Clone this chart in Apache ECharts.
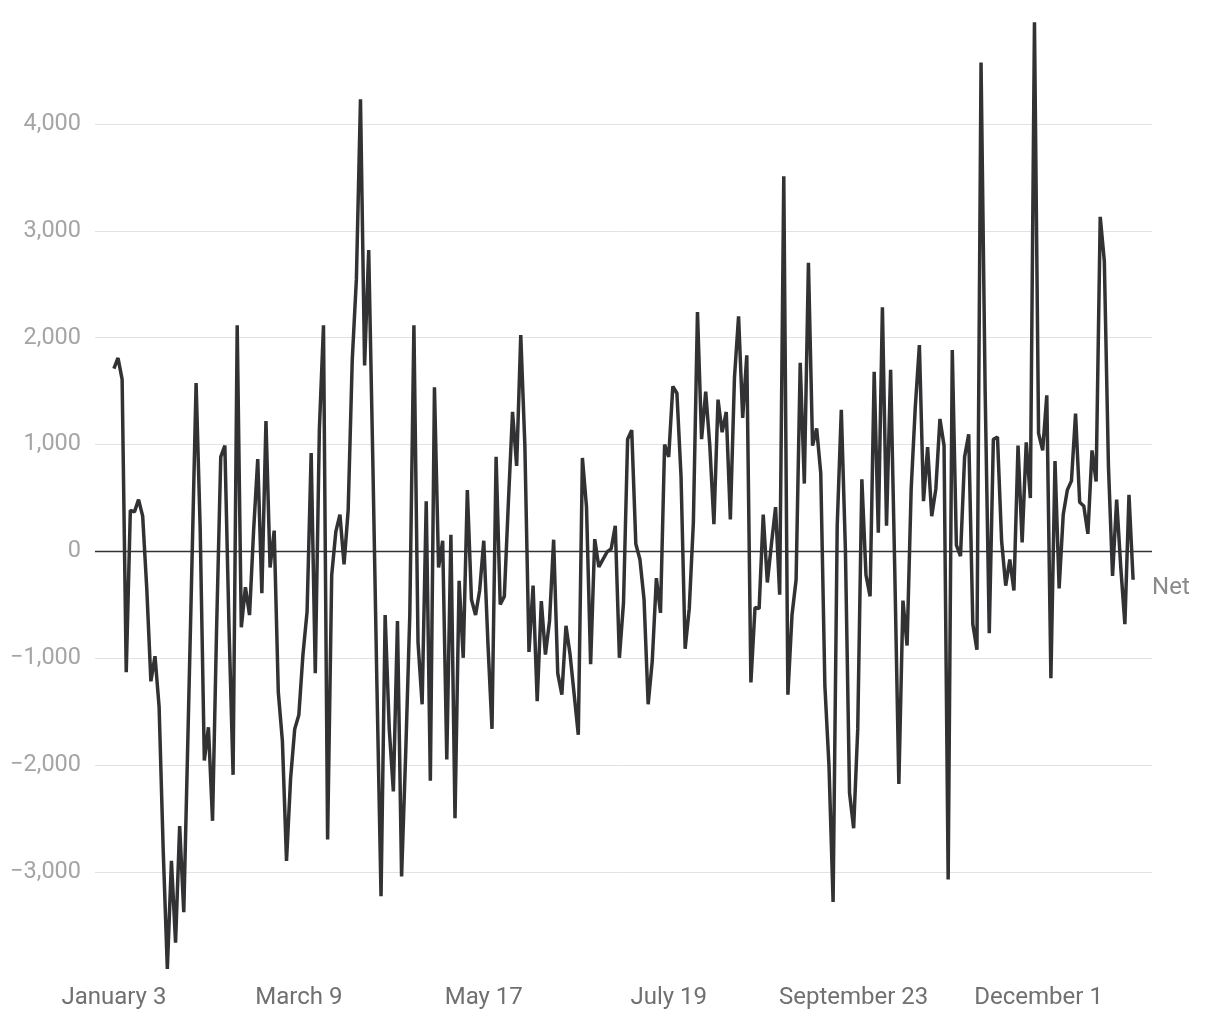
<!DOCTYPE html>
<html>
<head>
<meta charset="utf-8">
<script src="https://cdn.jsdelivr.net/npm/echarts@6/dist/echarts.min.js"></script>
<style>
  html, body { margin: 0; padding: 0; background: #ffffff; }
  #chart { width: 1220px; height: 1020px; }
</style>
</head>
<body>
<div id="chart"></div>
<script>
// Daily net values (one per observation, in order)
const netValues = [
  1710, 1810, 1610, -1130, 385, 370, 485, 330, -350, -1215,
  -980, -1455, -2800, -3905, -2895, -3660, -2570, -3375, -1750, -100,
  1575, 200, -1955, -1645, -2520, -700, 885, 990, -700, -2090,
  2115, -710, -335, -595, 200, 865, -390, 1220, -150, 195,
  -1315, -1775, -2895, -2120, -1660, -1530, -965, -565, 920, -1140,
  1150, 2115, -2695, -220, 185, 345, -120, 385, 1795, 2545,
  4230, 1740, 2820, 850, -1250, -3225, -595, -1660, -2245, -650,
  -3040, -1890, -595, 2115, -850, -1430, 470, -2145, 1535, -150,
  100, -1945, 155, -2495, -275, -995, 575, -450, -595, -365,
  100, -850, -1660, 885, -495, -420, 470, 1305, 800, 2025,
  990, -940, -320, -1400, -465, -965, -650, 110, -1140, -1340,
  -695, -965, -1340, -1715, 875, 415, -1055, 115, -145, -75,
  -5, 25, 240, -995, -480, 1050, 1135, 70, -75, -450,
  -1430, -1025, -250, -575, 1000, 885, 1545, 1480, 700, -910,
  -535, 270, 2240, 1050, 1495, 990, 255, 1420, 1115, 1305,
  300, 1625, 2200, 1250, 1835, -1225, -525, -535, 345, -290,
  70, 415, -405, 3510, -1340, -595, -265, 1765, 635, 2700,
  990, 1150, 730, -1255, -2005, -3280, 240, 1325, 10, -2260,
  -2590, -1660, 675, -220, -420, 1680, 175, 2285, 240, 1700,
  -160, -2175, -460, -880, 585, 1350, 1930, 470, 975, 330,
  585, 1240, 990, -3070, 1885, 60, -45, 885, 1095, -680,
  -920, 4575, 1500, -765, 1050, 1070, 100, -320, -75, -365,
  990, 85, 1020, 500, 4950, 1105, 945, 1460, -1185, 845,
  -345, 345, 575, 660, 1290, 460, 425, 165, 945, 655,
  3130, 2715, 800, -230, 485, -150, -680, 530, -265
];

// Date tick labels and the observation index each one falls on
const tickLabels = ['January 3', 'March 9', 'May 17', 'July 19', 'September 23', 'December 1'];
const tickIndices = [0, 45, 90, 135, 180, 225];

const seriesName = 'Net';

const labelByIndex = {};
tickIndices.forEach((ix, k) => { labelByIndex[ix] = tickLabels[k]; });

const seriesData = netValues.map((v, i) => [i, v]);

function fmtNum(v) {
  const s = Math.abs(v).toString().replace(/\B(?=(\d{3})+(?!\d))/g, ',');
  return v < 0 ? '\u2212' + s : s;
}

const chart = echarts.init(document.getElementById('chart'), null, { renderer: 'canvas' });
const lastIdx = netValues.length - 1;

chart.setOption({
  animation: false,
  backgroundColor: '#ffffff',
  textStyle: { fontFamily: 'Roboto, "Noto Sans", sans-serif' },
  grid: { left: 95, right: 68, top: 17, bottom: 41 },
  xAxis: {
    type: 'value',
    min: -4.6,
    max: lastIdx + 4.6,
    axisLine: { show: false },
    axisTick: { show: false },
    splitLine: { show: false },
    axisLabel: {
      customValues: tickIndices,
      formatter: (v) => labelByIndex[Math.round(v)] || '',
      color: '#707070',
      fontSize: 24,
      margin: 7,
      fontFamily: 'Roboto'
    }
  },
  yAxis: {
    type: 'value',
    min: -4000,
    max: 5000,
    interval: 1000,
    axisLine: { show: false },
    axisTick: { show: false },
    axisLabel: {
      formatter: (v) => (v <= -4000 || v >= 5000) ? '' : fmtNum(v),
      color: '#a5a5a5',
      fontSize: 23.5,
      margin: 14,
      padding: [4, 0, 0, 0],
      fontFamily: 'Roboto'
    },
    splitLine: {
      show: true,
      lineStyle: {
        width: 1,
        color: ['rgba(0,0,0,0)', '#e2e2e2', '#e2e2e2', '#e2e2e2', '#e2e2e2',
                '#e2e2e2', '#e2e2e2', '#e2e2e2', '#e2e2e2', 'rgba(0,0,0,0)']
      }
    }
  },
  series: [{
    name: seriesName,
    type: 'line',
    data: seriesData,
    showSymbol: false,
    symbol: 'none',
    lineStyle: { color: '#323234', width: 3.5 },
    itemStyle: { color: '#323234' },
    endLabel: {
      show: true,
      formatter: seriesName,
      color: '#8a8a8a',
      fontSize: 24,
      distance: 19,
      offset: [0, 8],
      fontFamily: 'Roboto'
    },
    markLine: {
      silent: true,
      symbol: 'none',
      label: { show: false },
      lineStyle: { color: '#333333', width: 1.3, type: 'solid' },
      data: [{ yAxis: 0 }],
      z: 1
    }
  }]
});
</script>
</body>
</html>
